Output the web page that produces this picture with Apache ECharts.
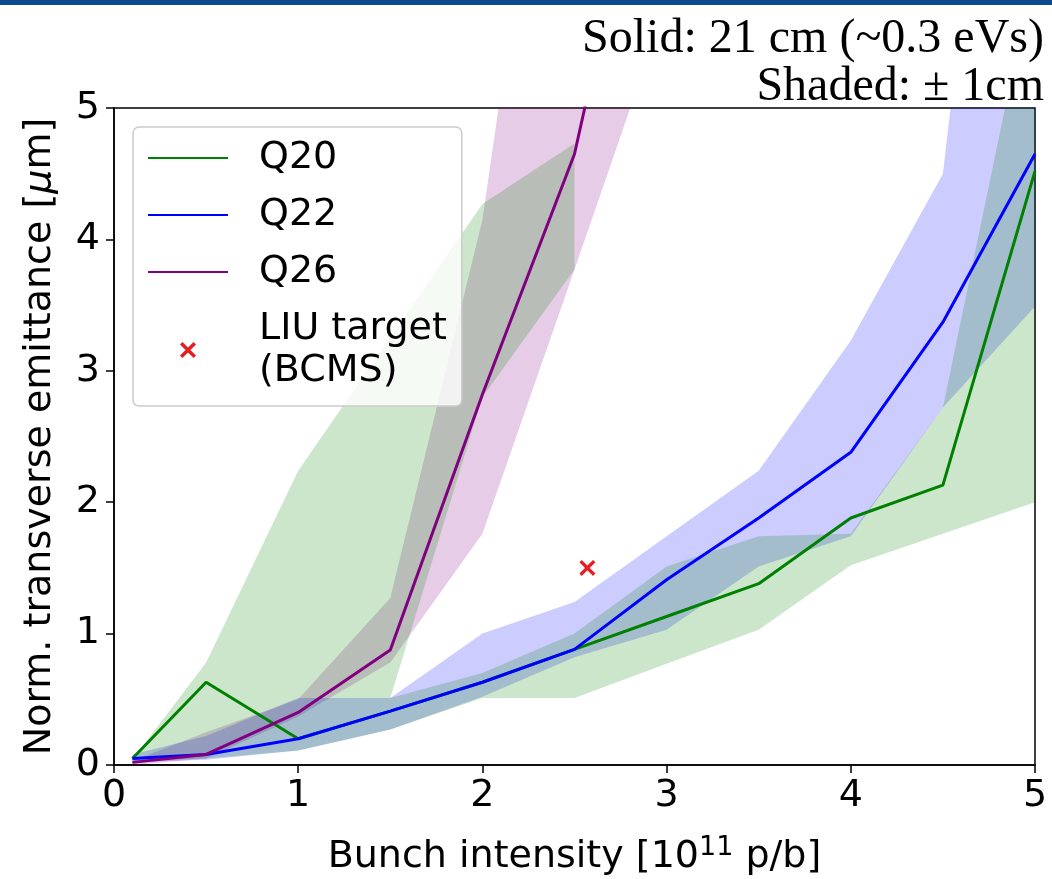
<!DOCTYPE html>
<html><head><meta charset="utf-8">
<script src="https://cdn.jsdelivr.net/npm/echarts@6/dist/echarts.min.js"></script>
<style>html,body{margin:0;padding:0;background:#fff}#c{width:1052px;height:879px}</style>
</head><body><div id="c"></div>
<script>
// ---- data ----
const intensity = [0.1, 0.5, 1, 1.5, 2, 2.5, 3, 3.5, 4, 4.5, 5];
const q20 = [0.05, 0.63, 0.2, 0.41, 0.63, 0.88, 1.13, 1.38, 1.88, 2.13, 4.52];
const q22 = [0.05, 0.08, 0.2, 0.41, 0.63, 0.88, 1.41, 1.88, 2.38, 3.37, 4.65];
const q26Intensity = [0.1, 0.5, 1, 1.5, 2, 2.5, 3];
const q26 = [0.02, 0.08, 0.4, 0.875, 2.82, 4.65, 7.8];
const liuTarget = [[2.57, 1.5]];

// shaded (+/- 1 cm) regions, outline vertices [intensity, emittance]
const q20BandOutline = [
  [0.1,0.04],[0.5,0.78],[1.0,2.24],[2.0,4.27],[2.5,4.73],[2.5,3.77],[2.0,2.8],[1.5,0.51],
  [2.0,0.7],[2.5,1.0],[3.0,1.51],[3.5,1.74],[4.0,1.76],[4.5,2.72],[5.0,6.1],
  [5.0,2.0],[4.5,1.76],[4.0,1.52],[3.5,1.03],[3.0,0.77],[2.5,0.51],[2.0,0.51],
  [1.5,0.27],[1.0,0.11],[0.5,0.05],[0.1,0.03]
];
const q22BandUpper = [[0.1,0.08],[0.5,0.22],[1.0,0.51],[1.5,0.51],[2.0,1.0],[2.5,1.24],[3.0,1.74],[3.5,2.24],[4.0,3.23],[4.5,4.5],[5.0,10.5]];
const q22BandLower = [[0.1,0.02],[0.5,0.04],[1.0,0.11],[1.5,0.27],[2.0,0.52],[2.5,0.82],[3.0,1.03],[3.5,1.51],[4.0,1.74],[4.5,2.72],[5.0,3.49]];
const q26BandUpper = [[0.1,0.03],[0.5,0.25],[1.0,0.5],[1.5,1.27],[2.0,4.15],[2.5,9.0],[3.0,13.0]];
const q26BandLower = [[0.1,0.0],[0.5,0.05],[1.0,0.37],[1.5,0.78],[2.0,1.76],[2.5,3.77],[3.0,5.8]];

const seriesNames = ['Q20', 'Q22', 'Q26', 'LIU target\n(BCMS)'];
const seriesColors = ['#008000', '#0000ff', '#800080', '#e61e24'];
const titleLines = ['Solid: 21 cm (~0.3 eVs)', 'Shaded: \u00b1 1cm'];

// ---- chart ----
const FONT = 'DejaVu Sans';
function bandSeries(name, outline, fill) {
  return {
    type: 'custom', name: name, coordinateSystem: 'cartesian2d', clip: true, silent: true, z: 1,
    data: [outline[0]],
    renderItem: function (params, api) {
      return { type: 'polygon', shape: { points: outline.map(p => api.coord(p)) }, style: { fill: fill } };
    }
  };
}
const closed = (up, lo) => up.concat(lo.slice().reverse());
const hiddenSymbol = { color: 'rgba(0,0,0,0)', borderWidth: 0, opacity: 0 };

const chart = echarts.init(document.getElementById('c'), null, { renderer: 'canvas' });
chart.setOption({
  animation: false,
  backgroundColor: '#ffffff',
  graphic: [
    { type: 'rect', left: 0, top: 0, shape: { width: 1052, height: 5 }, style: { fill: '#0b4a8c' } },
    { type: 'text', x: 1044, y: 39, style: { text: titleLines[0], font: '48px "Liberation Serif"', fill: '#000', align: 'right', verticalAlign: 'middle' } },
    { type: 'text', x: 1044, y: 87, style: { text: titleLines[1], font: '48px "Liberation Serif"', fill: '#000', align: 'right', verticalAlign: 'middle' } }
  ],
  grid: { left: 114, right: 17, top: 108, bottom: 114, outerBoundsMode: 'none', containLabel: false,
    show: true, borderColor: '#000', borderWidth: 1.5, backgroundColor: 'transparent' },
  legend: {
    orient: 'vertical', left: 133, top: 127,
    data: [
      { name: seriesNames[0], itemStyle: hiddenSymbol },
      { name: seriesNames[1], itemStyle: hiddenSymbol },
      { name: seriesNames[2], itemStyle: hiddenSymbol },
      { name: seriesNames[3] }
    ],
    itemWidth: 80, itemHeight: 16, itemGap: 15,
    padding: [10, 15, 14, 14],
    backgroundColor: 'rgba(255,255,255,0.8)', borderColor: '#cccccc', borderWidth: 1.5, borderRadius: 6,
    textStyle: { fontFamily: FONT, fontSize: 38, lineHeight: 42, color: '#000', padding: [0, 0, 0, 26] }
  },
  xAxis: {
    type: 'value', min: 0, max: 5, interval: 1,
    name: 'Bunch intensity [10{sup|11} p/b]', nameLocation: 'middle', nameGap: 69,
    nameTextStyle: { fontFamily: FONT, fontSize: 38, color: '#000', lineHeight: 46,
      rich: { sup: { fontFamily: FONT, fontSize: 27, lineHeight: 27, verticalAlign: 'top', color: '#000' } } },
    axisLine: { show: true, onZero: false, lineStyle: { color: '#000', width: 1.5 } },
    axisTick: { show: true, length: 8, lineStyle: { color: '#000', width: 1.5 } },
    axisLabel: { fontFamily: FONT, fontSize: 38, color: '#000', margin: 12 },
    splitLine: { show: false }
  },
  yAxis: {
    type: 'value', min: 0, max: 5, interval: 1,
    name: 'Norm. transverse emittance [{i|\u03bc}m]', nameLocation: 'middle', nameGap: 55, nameRotate: 90,
    nameTextStyle: { fontFamily: FONT, fontSize: 38, color: '#000',
      rich: { i: { fontFamily: FONT, fontSize: 38, fontStyle: 'italic', color: '#000' } } },
    axisLine: { show: true, onZero: false, lineStyle: { color: '#000', width: 1.5 } },
    axisTick: { show: true, length: 8, lineStyle: { color: '#000', width: 1.5 } },
    axisLabel: { fontFamily: FONT, fontSize: 38, color: '#000', margin: 14 },
    splitLine: { show: false }
  },
  series: [
    bandSeries('Q26 shaded', closed(q26BandUpper, q26BandLower), 'rgba(128,0,128,0.2)'),
    bandSeries('Q22 shaded', closed(q22BandUpper, q22BandLower), 'rgba(0,0,255,0.2)'),
    bandSeries('Q20 shaded', q20BandOutline, 'rgba(0,128,0,0.2)'),
    { type: 'line', name: seriesNames[0], data: intensity.map((x, i) => [x, q20[i]]), symbol: 'none', z: 3,
      lineStyle: { color: seriesColors[0], width: 3 }, itemStyle: { color: seriesColors[0] } },
    { type: 'line', name: seriesNames[1], data: intensity.map((x, i) => [x, q22[i]]), symbol: 'none', z: 3,
      lineStyle: { color: seriesColors[1], width: 3 }, itemStyle: { color: seriesColors[1] } },
    { type: 'line', name: seriesNames[2], data: q26Intensity.map((x, i) => [x, q26[i]]), symbol: 'none', z: 3,
      lineStyle: { color: seriesColors[2], width: 3 }, itemStyle: { color: seriesColors[2] } },
    { type: 'scatter', name: seriesNames[3], data: liuTarget, z: 4,
      symbol: 'path://M1.5,0L5,3.5L8.5,0L10,1.5L6.5,5L10,8.5L8.5,10L5,6.5L1.5,10L0,8.5L3.5,5L0,1.5Z', symbolSize: 16,
      itemStyle: { color: seriesColors[3], opacity: 1 } }
  ]
});
</script>
</body></html>
